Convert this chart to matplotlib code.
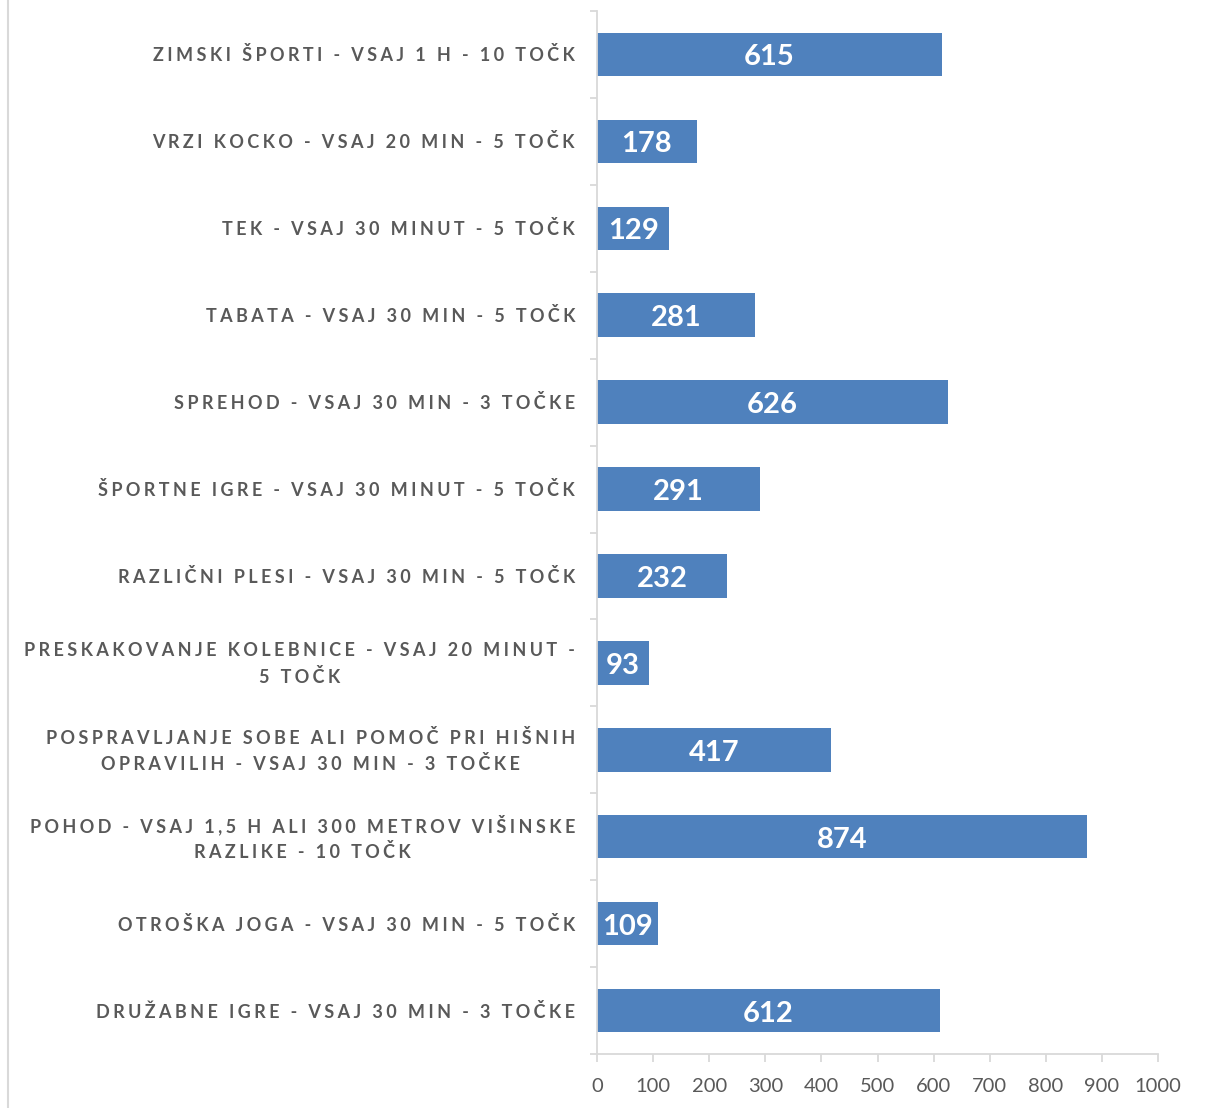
import numpy as np
import matplotlib.pyplot as plt
from matplotlib.lines import Line2D
from matplotlib.ticker import FixedLocator

categories = [
    "ZIMSKI ŠPORTI - VSAJ 1 H - 10 TOČK",
    "VRZI KOCKO - VSAJ 20 MIN - 5 TOČK",
    "TEK - VSAJ 30 MINUT - 5 TOČK",
    "TABATA - VSAJ 30 MIN - 5 TOČK",
    "SPREHOD - VSAJ 30 MIN - 3 TOČKE",
    "ŠPORTNE IGRE - VSAJ 30 MINUT - 5 TOČK",
    "RAZLIČNI PLESI - VSAJ 30 MIN - 5 TOČK",
    "PRESKAKOVANJE KOLEBNICE - VSAJ 20 MINUT -\n5 TOČK",
    "POSPRAVLJANJE SOBE ALI POMOČ PRI HIŠNIH\nOPRAVILIH - VSAJ 30 MIN - 3 TOČKE",
    "POHOD - VSAJ 1,5 H ALI 300 METROV VIŠINSKE\nRAZLIKE - 10 TOČK",
    "OTROŠKA JOGA - VSAJ 30 MIN - 5 TOČK",
    "DRUŽABNE IGRE - VSAJ 30 MIN - 3 TOČKE",
]
values = [615, 178, 129, 281, 626, 291, 232, 93, 417, 874, 109, 612]
xticks = [0, 100, 200, 300, 400, 500, 600, 700, 800, 900, 1000]

bar_color = "#4F81BD"
grey = "#595959"
axis_grey = "#D9D9D9"
fam = ["Lato", "DejaVu Sans"]


def spaced(s):
    # fake letter spacing with thin + hair spaces
    lines = []
    for line in s.split("\n"):
        lines.append("\u2009\u200a".join(line))
    return "\n".join(lines)


fig = plt.figure(figsize=(12.08, 11.08), dpi=100)
ax = fig.add_axes([597 / 1208, 54 / 1108, 561 / 1208, 1043 / 1108])

y = np.arange(len(categories))
ax.barh(y, values, height=0.5, color=bar_color)
ax.set_ylim(len(categories) - 0.5, -0.5)
ax.set_xlim(0, 1000)

for yi, v in zip(y, values):
    ax.annotate(str(v), xy=(v / 2, yi), xytext=(0, -3), textcoords="offset pixels",
                ha="center", va="center", color="white",
                fontsize=21, fontweight="bold", family=fam)

for yi, lab in zip(y, categories):
    ax.annotate(spaced(lab), xy=(0, yi), xycoords=("axes fraction", "data"),
                xytext=(-22, -1), textcoords="offset pixels", ha="right",
                va="center", multialignment="center", color=grey,
                fontsize=13, fontweight="bold", family=fam, linespacing=1.55)

ax.set_yticks([])
ax.yaxis.set_major_locator(FixedLocator(np.arange(-0.5, len(categories), 1)))
ax.set_yticklabels([])
ax.tick_params(axis="y", length=5, color=axis_grey, width=1.3)

ax.set_xticks(xticks)
ax.set_xticklabels([str(t) for t in xticks], family=fam, fontsize=14.5, color=grey)
ax.tick_params(axis="x", length=6, color=axis_grey, width=1.3, pad=11)

for s in ["top", "right"]:
    ax.spines[s].set_visible(False)
for s in ["left", "bottom"]:
    ax.spines[s].set_color(axis_grey)
    ax.spines[s].set_linewidth(1.3)

fig.add_artist(Line2D([8 / 1208, 8 / 1208], [0, 1], color=axis_grey, lw=1.5,
                      transform=fig.transFigure))

fig.savefig("out.png", dpi=100)
